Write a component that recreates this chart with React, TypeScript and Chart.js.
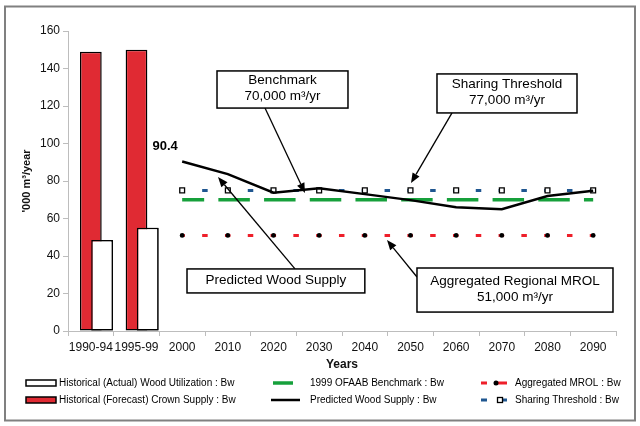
import React, { useEffect, useRef } from 'react';
import { Chart, registerables } from 'chart.js';

Chart.register(...registerables);

// ---------------- data ----------------
const categories = ['1990-94', '1995-99', '2000', '2010', '2020', '2030', '2040', '2050', '2060', '2070', '2080', '2090'];
const crownSupply = [149, 150, null, null, null, null, null, null, null, null, null, null];
const actualUtilization = [48.5, 55.1, null, null, null, null, null, null, null, null, null, null];
const predictedSupply = [null, null, 90.4, 83.7, 73.8, 76.1, 73, 69.8, 66, 65, 72, 74.8];
const benchmark = [null, null, 70, 70, 70, 70, 70, 70, 70, 70, 70, 70];
const aggregatedMrol = [null, null, 51, 51, 51, 51, 51, 51, 51, 51, 51, 51];
const sharingThreshold = [null, null, 75, 75, 75, 75, 75, 75, 75, 75, 75, 75];
const yMin = 0;
const yMax = 160;
const yStep = 20;

const seriesLabels = {
  predicted: 'Predicted Wood Supply : Bw',
  benchmark: '1999 OFAAB Benchmark : Bw',
  mrol: 'Aggregated MROL : Bw',
  sharing: 'Sharing Threshold : Bw',
  actual: 'Historical (Actual) Wood Utilization : Bw',
  crown: 'Historical (Forecast) Crown Supply : Bw',
};

// callouts: box corners and arrow endpoints in (category index, value) units
const callouts = [
  { lines: ['Benchmark', '70,000 m³/yr'], box: [2.763, 138.7, 5.631, 118.9], from: [3.814, 118.9], to: [4.69, 73.6] },
  { lines: ['Sharing Threshold', '77,000 m³/yr'], box: [7.58, 137.1, 10.646, 116.3], from: [7.909, 116.3], to: [7.011, 78.9] },
  { lines: ['Predicted Wood Supply'], box: [2.106, 33.1, 6.0, 20.3], from: [4.471, 33.1], to: [2.785, 82.1] },
  { lines: ['Aggregated Regional MROL', '51,000 m³/yr'], box: [7.142, 33.6, 11.434, 10.1], from: [7.142, 28.8], to: [6.485, 48.5] },
];

// ---------------- styles ----------------
const FONT = '"Liberation Sans", Arial, Helvetica, sans-serif';
const RED_BAR = '#e02a33';
const GREEN = '#16a03b';
const RED_DASH = '#ee1f2a';
const BLUE = '#1f5690';
const AXIS = '#bdbdbd';
const BAR_CAT_PCT = 0.74;
const BAR_PCT = 1.93;

const framePlugin = {
  id: 'frame',
  beforeDraw(chart: any) {
    const ctx = chart.ctx;
    ctx.save();
    ctx.fillStyle = '#fff';
    ctx.fillRect(0, 0, chart.width, chart.height);
    ctx.strokeStyle = '#808080';
    ctx.lineWidth = 2;
    ctx.strokeRect(5, 6.5, 630, 414);
    ctx.restore();
  },
};

// draw the "actual" bars again after the red bars so that they overlap them
const overlapPlugin = {
  id: 'overlap',
  afterDatasetDraw(chart: any, args: any) {
    const ds = chart.data.datasets[args.index];
    if (ds && ds.label === seriesLabels.crown) {
      const idx = chart.data.datasets.findIndex((d: any) => d.label === seriesLabels.actual);
      const meta = chart.getDatasetMeta(idx);
      if (meta && meta.controller) meta.controller.draw();
    }
  },
};

function arrow(ctx: CanvasRenderingContext2D, x1: number, y1: number, x2: number, y2: number) {
  const ang = Math.atan2(y2 - y1, x2 - x1);
  const len = 10;
  const hw = 4;
  const bx = x2 - len * Math.cos(ang);
  const by = y2 - len * Math.sin(ang);
  ctx.beginPath();
  ctx.moveTo(x1, y1);
  ctx.lineTo(bx, by);
  ctx.stroke();
  ctx.beginPath();
  ctx.moveTo(x2, y2);
  ctx.lineTo(bx + hw * Math.sin(ang), by - hw * Math.cos(ang));
  ctx.lineTo(bx - hw * Math.sin(ang), by + hw * Math.cos(ang));
  ctx.closePath();
  ctx.fill();
}

const calloutPlugin = {
  id: 'callouts',
  afterDatasetsDraw(chart: any) {
    const ctx = chart.ctx;
    const xs = chart.scales.x;
    const ys = chart.scales.y;
    const px = (i: number) => xs.getPixelForValue(0) + i * (xs.getPixelForValue(1) - xs.getPixelForValue(0));
    const py = (v: number) => ys.getPixelForValue(v);
    ctx.save();
    // value label on first predicted point
    const meta = chart.getDatasetMeta(0);
    const firstIdx = predictedSupply.findIndex((v) => v !== null);
    const pt = meta.data[firstIdx];
    if (pt) {
      ctx.font = `bold 13px ${FONT}`;
      ctx.fillStyle = '#000';
      ctx.textAlign = 'center';
      ctx.textBaseline = 'middle';
      ctx.fillText(String(predictedSupply[firstIdx]), pt.x - 17, pt.y - 15);
    }
    for (const c of callouts) {
      const l = px(c.box[0]);
      const t = py(c.box[1]);
      const r = px(c.box[2]);
      const b = py(c.box[3]);
      ctx.strokeStyle = '#000';
      ctx.fillStyle = '#000';
      ctx.lineWidth = 1.3;
      arrow(ctx, px(c.from[0]), py(c.from[1]), px(c.to[0]), py(c.to[1]));
      ctx.fillStyle = '#fff';
      ctx.fillRect(l, t, r - l, b - t);
      ctx.lineWidth = 1.5;
      ctx.strokeRect(l, t, r - l, b - t);
      ctx.fillStyle = '#000';
      ctx.font = `13.5px ${FONT}`;
      ctx.textAlign = 'center';
      ctx.textBaseline = 'middle';
      const cx = (l + r) / 2;
      const cy = (t + b) / 2 - 1;
      const lh = 16.5;
      c.lines.forEach((line, i) => {
        ctx.fillText(line, cx, cy + (i - (c.lines.length - 1) / 2) * lh);
      });
    }
    ctx.restore();
  },
};

const legendPlugin = {
  id: 'customLegend',
  afterDraw(chart: any) {
    const ctx = chart.ctx;
    ctx.save();
    ctx.font = `10px ${FONT}`;
    ctx.textBaseline = 'middle';
    ctx.textAlign = 'left';
    const rows = [383, 400];
    const ds = chart.data.datasets;
    const find = (label: string) => ds.find((d: any) => d.label === label);
    // column 1: bars
    [seriesLabels.actual, seriesLabels.crown].forEach((lab, i) => {
      const d = find(lab);
      const y = rows[i];
      ctx.fillStyle = d.backgroundColor;
      ctx.fillRect(26, y - 3, 30, 6);
      ctx.strokeStyle = '#000';
      ctx.lineWidth = 1.5;
      ctx.strokeRect(26, y - 3, 30, 6);
      ctx.fillStyle = '#000';
      ctx.fillText(d.label, 59, y);
    });
    // column 2: lines
    [seriesLabels.benchmark, seriesLabels.predicted].forEach((lab, i) => {
      const d = find(lab);
      const y = rows[i];
      ctx.strokeStyle = d.borderColor;
      ctx.lineWidth = d.borderWidth;
      ctx.beginPath();
      if (i === 0) {
        ctx.moveTo(273, y);
        ctx.lineTo(293, y);
      } else {
        ctx.moveTo(271, y);
        ctx.lineTo(300, y);
      }
      ctx.stroke();
      ctx.fillStyle = '#000';
      ctx.fillText(d.label, 310, y);
    });
    // column 3: dashed lines with markers
    [seriesLabels.mrol, seriesLabels.sharing].forEach((lab, i) => {
      const d = find(lab);
      const y = rows[i];
      ctx.strokeStyle = d.borderColor;
      ctx.lineWidth = 3;
      ctx.beginPath();
      ctx.moveTo(481, y);
      ctx.lineTo(487, y);
      ctx.moveTo(497, y);
      ctx.lineTo(507, y);
      ctx.stroke();
      if (d.pointStyle === 'rect') {
        ctx.fillStyle = '#fff';
        ctx.fillRect(497.5, y - 2.5, 5, 5);
        ctx.strokeStyle = '#000';
        ctx.lineWidth = 1.3;
        ctx.strokeRect(497.5, y - 2.5, 5, 5);
      } else {
        ctx.fillStyle = '#000';
        ctx.beginPath();
        ctx.arc(496, y, 2.5, 0, Math.PI * 2);
        ctx.fill();
      }
      ctx.fillStyle = '#000';
      ctx.fillText(d.label, 515, y);
    });
    ctx.restore();
  },
};

export default function App() {
  const ref = useRef<HTMLCanvasElement>(null);

  useEffect(() => {
    if (!ref.current) return;
    const chart = new Chart(ref.current, {
      type: 'bar',
      data: {
        labels: categories,
        datasets: [
          {
            type: 'line',
            label: seriesLabels.predicted,
            data: predictedSupply,
            borderColor: '#000',
            borderWidth: 2.5,
            pointRadius: 0,
            tension: 0,
            order: 0,
          },
          {
            type: 'line',
            label: seriesLabels.benchmark,
            data: benchmark,
            borderColor: GREEN,
            borderWidth: 3.5,
            borderDash: [31.5, 14.2],
            borderDashOffset: 9.5,
            borderCapStyle: 'butt',
            pointRadius: 0,
            order: 0,
          },
          {
            type: 'line',
            label: seriesLabels.mrol,
            data: aggregatedMrol,
            borderColor: RED_DASH,
            borderWidth: 3,
            borderDash: [5.5, 17.3],
            borderDashOffset: 2.8,
            pointStyle: 'circle',
            pointRadius: 2.4,
            pointBackgroundColor: '#000',
            pointBorderColor: '#000',
            pointBorderWidth: 0,
            order: 0,
          },
          {
            type: 'line',
            label: seriesLabels.sharing,
            data: sharingThreshold,
            borderColor: BLUE,
            borderWidth: 3,
            borderDash: [5.5, 17.3],
            borderDashOffset: 2.8,
            pointStyle: 'rect',
            pointRadius: 3.4,
            pointBackgroundColor: '#fff',
            pointBorderColor: '#000',
            pointBorderWidth: 1.3,
            order: 0,
          },
          {
            type: 'bar',
            label: '_spacer',
            data: categories.map(() => null),
            order: 1,
            categoryPercentage: BAR_CAT_PCT,
            barPercentage: BAR_PCT,
          },
          {
            type: 'bar',
            label: seriesLabels.crown,
            data: crownSupply,
            backgroundColor: RED_BAR,
            borderColor: '#000',
            borderWidth: 1.5,
            borderSkipped: false,
            order: 2,
            categoryPercentage: BAR_CAT_PCT,
            barPercentage: BAR_PCT,
          },
          {
            type: 'bar',
            label: seriesLabels.actual,
            data: actualUtilization,
            backgroundColor: '#fff',
            borderColor: '#000',
            borderWidth: 1.5,
            borderSkipped: false,
            order: 3,
            categoryPercentage: BAR_CAT_PCT,
            barPercentage: BAR_PCT,
          },
        ] as any,
      },
      options: {
        responsive: false,
        animation: false,
        layout: { padding: { left: 0, top: 31, right: 24, bottom: 0 } },
        plugins: {
          legend: { display: false },
          tooltip: { enabled: false },
        },
        scales: {
          x: {
            type: 'category',
            offset: true,
            grid: {
              display: true,
              drawOnChartArea: false,
              drawTicks: true,
              tickLength: 5,
              color: AXIS,
              offset: true,
            },
            border: { display: true, color: AXIS, width: 1 },
            ticks: {
              font: { family: FONT, size: 12 },
              color: '#111',
              padding: 4,
              maxRotation: 0,
              autoSkip: false,
            },
            title: {
              display: true,
              text: 'Years',
              font: { family: FONT, size: 12, weight: 'bold' },
              color: '#111',
              padding: { top: 0, bottom: 54 },
            },
            afterFit: (s: any) => {
              s.height = 95;
            },
          },
          y: {
            min: yMin,
            max: yMax,
            ticks: {
              stepSize: yStep,
              font: { family: FONT, size: 12 },
              color: '#111',
              padding: 3,
            },
            grid: {
              drawOnChartArea: false,
              drawTicks: true,
              tickLength: 5,
              color: AXIS,
            },
            border: { display: true, color: AXIS, width: 1 },
            title: {
              display: true,
              text: "'000 m³/year",
              font: { family: FONT, size: 11, weight: 'bold' },
              color: '#111',
              padding: { top: 20, bottom: 0 },
            },
            afterFit: (s: any) => {
              s.width = 68;
            },
          },
        },
      } as any,
      plugins: [framePlugin, overlapPlugin, calloutPlugin, legendPlugin],
    });
    return () => chart.destroy();
  }, []);

  return (
    <div style={{ position: 'fixed', left: 0, top: 0, width: 640, height: 426, background: '#fff' }}>
      <canvas ref={ref} width={640} height={426} />
    </div>
  );
}
